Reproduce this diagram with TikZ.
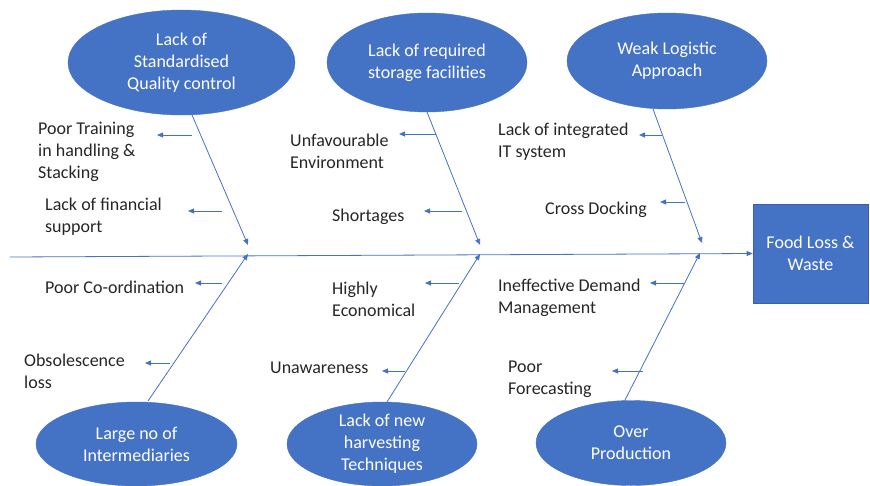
\documentclass[tikz,border=0pt]{standalone}
\usepackage{fontspec}
\setmainfont{Carlito}
\usetikzlibrary{shapes.geometric,arrows.meta}
\definecolor{obl}{HTML}{4472C4}
\definecolor{txt}{HTML}{262626}
\tikzset{
  cause/.style={ellipse, fill=obl, draw=obl, text=white, align=center, inner sep=0pt,
    font=\fontsize{18}{22}\selectfont},
  effectbox/.style={rectangle, fill=obl, draw=obl!85!black, line width=0.6pt, text=white, align=center,
    font=\fontsize{18}{22}\selectfont, minimum width=115pt, minimum height=99pt},
  sub/.style={anchor=west, align=left, inner sep=0pt, text=txt, font=\fontsize{18}{22}\selectfont},
  bone/.style={draw=obl, line width=0.8pt, -{Triangle[length=6pt,width=5pt]}},
  twig/.style={draw=obl, line width=0.8pt, -{Triangle[length=6pt,width=5pt]}}
}
\begin{document}
\begin{tikzpicture}[x=1pt,y=-1pt]
\useasboundingbox (0,0) rectangle (870,485);
% effect
\node[effectbox] (effect) at (810.5,253.5) {Food Loss \&\\Waste};
% causes
\node[cause, minimum width=227pt, minimum height=105pt] (c1) at (181.5,62.5) {Lack of\\Standardised\\Quality control};
\node[cause, minimum width=200pt, minimum height=99pt] (c2) at (427,62.5) {Lack of required\\storage facilities};
\node[cause, minimum width=200pt, minimum height=96pt] (c3) at (667,61) {Weak Logistic\\Approach};
\node[cause, minimum width=201pt, minimum height=84pt] (c4) at (136.5,444) {Large no of\\Intermediaries};
\node[cause, minimum width=190pt, minimum height=84pt] (c5) at (382,444) {Lack of new\\harvesting\\Techniques};
\node[cause, minimum width=190pt, minimum height=85pt] (c6) at (631,443) {Over\\Production};
% spine
\coordinate (sp) at (10,257);
\draw[bone] (sp) -- (effect.west);
% bones
\coordinate (b1s) at (192,115); \coordinate (b1e) at (248,245);
\coordinate (b2s) at (427,112); \coordinate (b2e) at (480,245);
\coordinate (b3s) at (653,109); \coordinate (b3e) at (702,243);
\coordinate (b4s) at (148,401); \coordinate (b4e) at (248,254);
\coordinate (b5s) at (387,402); \coordinate (b5e) at (480,254);
\coordinate (b6s) at (625,400); \coordinate (b6e) at (700,253);
\foreach \i in {1,...,6} {\draw[bone] (b\i s) -- (b\i e);}
% sub-causes
\node[sub] (t1a) at (38,152) {Poor Training\\in handling \&\\Stacking};
\node[sub] (t1b) at (45,216.5) {Lack of financial\\support};
\node[sub] (t2a) at (290,151.5) {Unfavourable\\Environment};
\node[sub] (t2b) at (332,217) {Shortages};
\node[sub] (t3a) at (498,141.5) {Lack of integrated\\IT system};
\node[sub] (t3b) at (545,210) {Cross Docking};
\node[sub] (t4a) at (45,287) {Poor Co-ordination};
\node[sub] (t4b) at (24,371) {Obsolescence\\loss};
\node[sub] (t5a) at (332,299) {Highly\\Economical};
\node[sub] (t5b) at (270,368) {Unawareness};
\node[sub] (t6a) at (498,297.5) {Ineffective Demand\\Management};
\node[sub] (t6b) at (508,379.5) {Poor\\Forecasting};
% twigs
\coordinate (a1as) at (192,135); \coordinate (a1ae) at (157,135);
\coordinate (a1bs) at (222,211); \coordinate (a1be) at (188,211);
\coordinate (a2as) at (436,134); \coordinate (a2ae) at (399,134);
\coordinate (a2bs) at (462,211); \coordinate (a2be) at (424,211);
\coordinate (a3as) at (662,135); \coordinate (a3ae) at (639,135);
\coordinate (a3bs) at (685,202); \coordinate (a3be) at (660,202);
\coordinate (a4as) at (222,283); \coordinate (a4ae) at (195,283);
\coordinate (a4bs) at (170,363); \coordinate (a4be) at (145,363);
\coordinate (a5as) at (459,283); \coordinate (a5ae) at (425,283);
\coordinate (a5bs) at (405,371); \coordinate (a5be) at (382,371);
\coordinate (a6as) at (685,283); \coordinate (a6ae) at (650,283);
\coordinate (a6bs) at (643,371); \coordinate (a6be) at (612,371);
\foreach \i in {1,...,6} {
  \draw[twig] (a\i as) -- (a\i ae);
  \draw[twig] (a\i bs) -- (a\i be);
}
\end{tikzpicture}
\end{document}
